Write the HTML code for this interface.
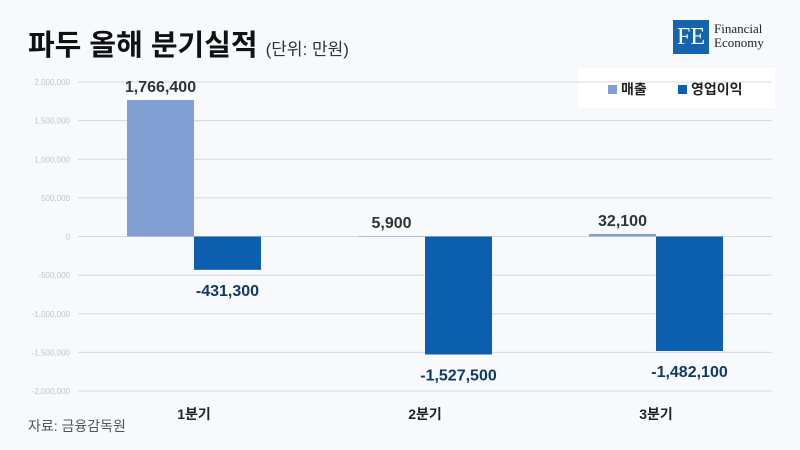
<!DOCTYPE html>
<html><head><meta charset="utf-8"><style>
body{margin:0;width:800px;height:450px;background:#f8f9fc;font-family:"Liberation Sans","Noto Sans CJK KR",sans-serif;overflow:hidden;position:relative}
.t{position:absolute;left:28px;top:22px;font-size:29px;font-weight:bold;color:#111}
.t span{font-size:17px;font-weight:normal;color:#333}
</style></head><body>
<div class="t">파두 올해 분기실적 <span>(단위: 만원)</span></div>
<div style="position:absolute;left:673px;top:20px;width:36px;height:34px;background:#1565ad;color:#fff;font-family:'Liberation Serif',serif;font-size:24px;line-height:34px;text-align:center">FE</div>
<div style="position:absolute;left:714px;top:22px;font-family:'Liberation Serif',serif;font-size:13px;line-height:14px;color:#222">Financial<br>Economy</div>
<div style="position:absolute;left:578px;top:68px;width:197px;height:40px;background:#fff;font-size:14px;font-weight:bold;color:#222">
<span style="position:absolute;left:30px;top:11px"><i style="display:inline-block;width:9px;height:9px;background:#819fd3;margin-right:4px"></i>매출</span>
<span style="position:absolute;left:100px;top:11px"><i style="display:inline-block;width:9px;height:9px;background:#0c5fae;margin-right:4px"></i>영업이익</span>
</div>
<svg id="c" width="800" height="450" style="position:absolute;left:0;top:0"></svg>
<div style="position:absolute;left:28px;top:416px;font-size:14px;color:#555">자료: 금융감독원</div>
<script>
const categories=["1분기","2분기","3분기"];
const sales=[1766400,5900,32100];
const profit=[-431300,-1527500,-1482100];
const ticks=[2000000,1500000,1000000,500000,0,-500000,-1000000,-1500000,-2000000];
const tickLabels=["2,000,000","1,500,000","1,000,000","500,000","0","-500,000","-1,000,000","-1,500,000","-2,000,000"];
const svg=document.getElementById('c');const NS='http://www.w3.org/2000/svg';
const y=v=>236.5-v*77.25/1e6;const x0=78.5,bw=231;const xc=i=>x0+bw*(i+0.5);
function mk(t,a,txt){const e=document.createElementNS(NS,t);for(const k in a)e.setAttribute(k,a[k]);if(txt!=null)e.textContent=txt;svg.appendChild(e);return e;}
const fmt=v=>v.toLocaleString('en-US');
ticks.forEach((v,i)=>{
const l=mk('line',{x1:78,x2:772,y1:y(v),y2:y(v),stroke:'#d8d8dc','stroke-width':1});


const t=mk('text',{x:70,y:y(v)+3,'text-anchor':'end','font-size':8,fill:'#c4c4c8'},tickLabels[i]);


});
categories.forEach((c,i)=>{
const cx=xc(i);
const s=sales[i],p=profit[i];
const r1=mk('rect',{x:cx-67,width:67,y:Math.min(y(s),y(0)),height:Math.abs(y(s)-y(0)),fill:'#819fd3'});


const r2=mk('rect',{x:cx,width:67,y:Math.min(y(p),y(0)),height:Math.abs(y(p)-y(0)),fill:'#0c5fae'});


const l1=mk('text',{x:cx-33.5,y:(s>=0?y(s)-8:y(s)+22),'text-anchor':'middle','font-size':16,'font-weight':'bold',fill:'#333'},fmt(s));


const l2=mk('text',{x:cx+33.5,y:(p>=0?y(p)-8:y(p)+26),'text-anchor':'middle','font-size':16,'font-weight':'bold',fill:'#0f3a66'},fmt(p));


const ct=mk('text',{x:cx,y:419,'text-anchor':'middle','font-size':14,'font-weight':'bold',fill:'#222'},c);


});
</script>
</body></html>
